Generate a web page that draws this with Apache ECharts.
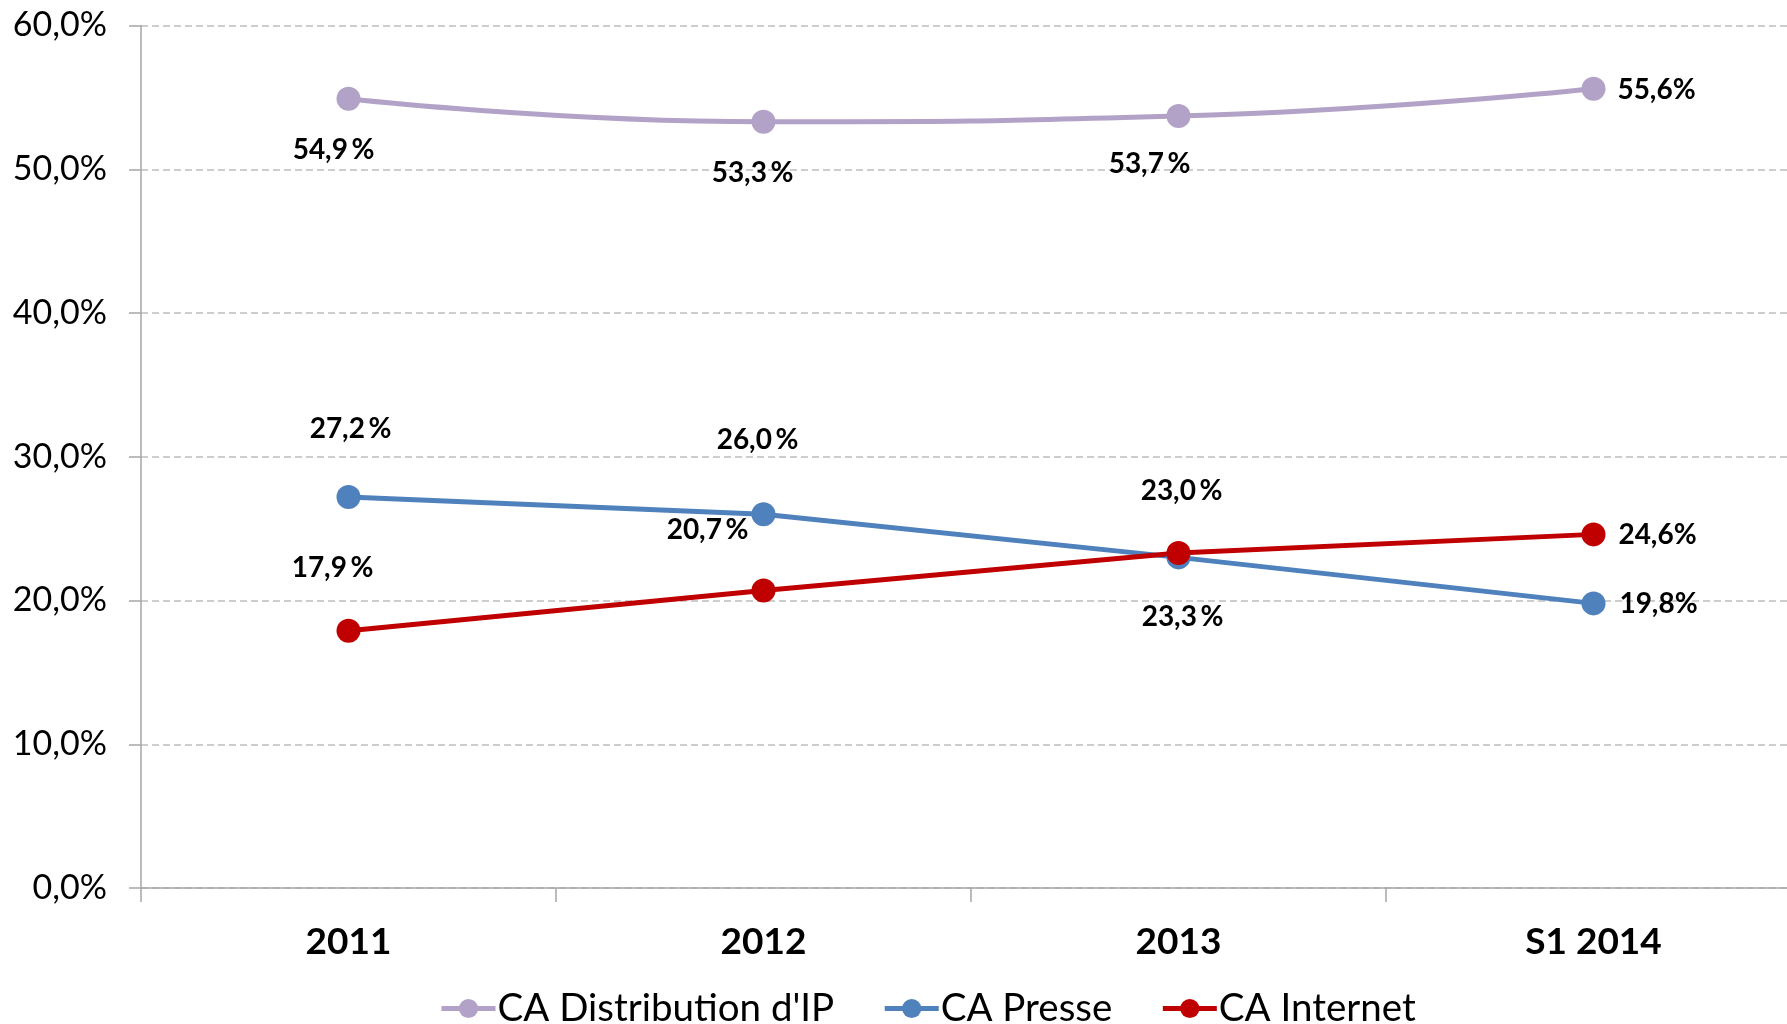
<!DOCTYPE html>
<html>
<head>
<meta charset="utf-8">
<script src="https://cdn.jsdelivr.net/npm/echarts@6/dist/echarts.min.js"></script>
<style>
html,body{margin:0;padding:0;background:#fff;}
#chart{width:1787px;height:1024px;}
</style>
</head>
<body>
<div id="chart"></div>
<script>
var categories = ['2011', '2012', '2013', 'S1 2014'];
var seriesNames = ['CA Distribution d\'IP', 'CA Presse', 'CA Internet'];
var distribution = [54.9, 53.3, 53.7, 55.6];
var presse = [27.2, 26.0, 23.0, 19.8];
var internet = [17.9, 20.7, 23.3, 24.6];
var yTicks = [0, 10, 20, 30, 40, 50, 60];

// label placement (style, relative to each point)
var distOffsets = [[-15, 51], [-11, 51], [-29, 48], [63, 1]];
var presseOffsets = [[2, -68], [-6, -74], [3, -66], [65, 1]];
var internetOffsets = [[-16, -63], [-56, -60], [4, 64], [64, 1]];

var FONT = 'Lato, "Open Sans", "Noto Sans", sans-serif';

function fmtLabel(p) {
  var s = Number(p.value).toFixed(1).replace('.', ',');
  return s + (p.dataIndex === categories.length - 1 ? '%' : '\u2009%');
}

function buildData(values, offsets) {
  return values.map(function (v, i) {
    return { value: v, label: { offset: offsets[i] } };
  });
}

function makeSeries(name, values, offsets, color, smooth) {
  return {
    name: name,
    type: 'line',
    smooth: smooth,
    data: buildData(values, offsets),
    symbol: 'circle',
    symbolSize: 24,
    lineStyle: { color: color, width: 5 },
    itemStyle: { color: color },
    label: {
      show: true,
      position: 'inside',
      formatter: fmtLabel,
      color: '#000',
      fontFamily: FONT,
      fontWeight: 'bold',
      fontSize: 28
    },
    emphasis: { disabled: true },
    animation: false
  };
}

var chart = echarts.init(document.getElementById('chart'));
chart.setOption({
  backgroundColor: '#fff',
  animation: false,
  grid: { left: 141, width: 1660, top: 25.5, bottom: 136, containLabel: false, outerBoundsMode: 'none' },
  legend: {
    data: seriesNames,
    left: 434,
    top: 984,
    itemWidth: 54,
    itemHeight: 24,
    itemGap: 48,
    lineStyle: { width: 5 },
    textStyle: { fontFamily: FONT, fontSize: 38.5, color: '#000', padding: [0, 0, 0, -3] }
  },
  xAxis: {
    type: 'category',
    data: categories,
    boundaryGap: true,
    axisLine: { lineStyle: { color: '#A6A6A6', width: 1.5 } },
    axisTick: { show: true, length: 14, lineStyle: { color: '#A6A6A6', width: 1.5 } },
    axisLabel: { fontFamily: FONT, fontWeight: 'bold', fontSize: 37, color: '#000', margin: 36 }
  },
  yAxis: {
    type: 'value',
    min: yTicks[0],
    max: yTicks[yTicks.length - 1],
    interval: 10,
    axisLine: { show: true, lineStyle: { color: '#A6A6A6', width: 1.5 } },
    axisTick: { show: true, length: 12, lineStyle: { color: '#A6A6A6', width: 1.5 } },
    axisLabel: {
      fontFamily: FONT, fontSize: 34, color: '#000', margin: 34,
      formatter: function (v) { return v.toFixed(1).replace('.', ',') + '%'; }
    },
    splitLine: { show: true, lineStyle: { color: '#BDBDBD', type: [7, 4], width: 1.5 } }
  },
  series: [
    makeSeries(seriesNames[0], distribution, distOffsets, '#B3A2C7', 0.5),
    makeSeries(seriesNames[1], presse, presseOffsets, '#4F81BD', false),
    makeSeries(seriesNames[2], internet, internetOffsets, '#C00000', false)
  ]
});
</script>
</body>
</html>
